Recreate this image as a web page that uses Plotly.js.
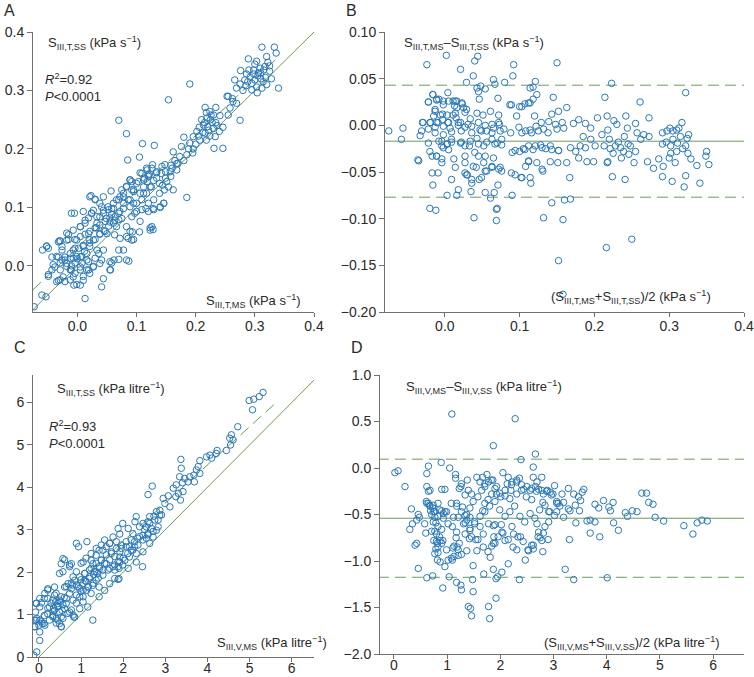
<!DOCTYPE html>
<html>
<head>
<meta charset="utf-8">
<script src="https://cdn.plot.ly/plotly-3.0.1.min.js"></script>
<style>
  html, body { margin: 0; padding: 0; background: #fff; }
  #chart { width: 754px; height: 677px; }
</style>
</head>
<body>
<div id="chart"></div>
<script>
// --- data ---
// panel A: S_III,T,MS (x) vs S_III,T,SS (y), kPa s-1
const aPts = [
  [0.312,0.374],[0.333,0.374],[0.336,0.364],[0.289,0.354],[0.303,0.350],[0.32,0.358],[0.276,0.334],[0.298,0.335],
  [0.309,0.338],[0.317,0.341],[0.325,0.333],[0.286,0.328],[0.292,0.323],[0.300,0.318],[0.283,0.318],[0.266,0.318],
  [0.275,0.311],[0.314,0.315],[0.303,0.306],[0.340,0.304],[0.295,0.301],[0.269,0.304],[0.28,0.30],[0.255,0.29],
  [0.262,0.286],[0.253,0.29],[0.269,0.278],[0.263,0.281],[0.258,0.27],[0.275,0.249],[0.255,0.258],[0.246,0.237],
  [0.241,0.257],[0.305,0.325],[0.295,0.312],[0.318,0.322],[0.31,0.33],[0.29,0.335],[0.322,0.348],[0.328,0.32],[0.3,0.345],
  [0.19,0.311],[0.154,0.284],[0.070,0.249],[0.083,0.226],[0.110,0.209],[0.130,0.206],[0.105,0.186],[0.085,0.181],[0.185,0.117],
  [0.216,0.271],[0.234,0.271],[0.224,0.264],[0.23,0.258],[0.219,0.253],[0.21,0.25],[0.225,0.25],[0.234,0.245],
  [0.213,0.241],[0.206,0.237],[0.22,0.238],[0.23,0.235],[0.24,0.23],[0.202,0.23],[0.216,0.227],[0.224,0.222],
  [0.233,0.221],[0.196,0.221],[0.207,0.215],[0.218,0.215],[0.231,0.201],[0.246,0.201],[0.190,0.21],[0.18,0.22],
  [0.176,0.204],[0.195,0.193],[0.185,0.19],[0.173,0.187],[0.162,0.195],[0.168,0.175],[0.157,0.161],[0.168,0.164],
  [0.148,0.173],[0.142,0.158],[0.134,0.15],[0.151,0.144],[0.162,0.13],[0.144,0.138],[0.139,0.124],[0.146,0.107],
  [0.14,0.10],[0.128,0.098],[0.118,0.144],[0.12,0.153],[0.125,0.135],[0.112,0.135],[0.106,0.124],[0.117,0.124],
  [0.109,0.113],[0.1,0.107],[0.116,0.098],[0.123,0.061],[0.126,0.067],[0.097,0.09],[0.089,0.101],[0.086,0.113],
  [0.095,0.13],[0.092,0.144],[0.089,0.147],[0.078,0.124],[0.083,0.135],[0.066,0.113],[0.072,0.118],[0.078,0.098],
  [0.07,0.09],[0.061,0.098],[0.052,0.101],[0.044,0.095],[0.038,0.084],[0.049,0.081],[0.063,0.078],[0.075,0.081],
  [0.083,0.067],[0.066,0.067],[0.055,0.075],[0.033,0.073],[0.024,0.09],[0.021,0.118],[0.03,0.113],[0.038,0.055],
  [0.05,0.055],[0.063,0.053],[0.072,0.047],[0.092,0.044],[0.105,0.058],[0.07,0.027],[0.062,0.01],[0.083,0.01],
  [0.055,0.007],[0.055,-0.007],[0.041,-0.036],[0.013,-0.056],[-0.01,0.09],[0.013,0.078],[0.005,0.067],[-0.007,0.061],
  [-0.015,0.053],[-0.001,0.044],[0.01,0.035],[-0.004,0.03],[-0.012,0.021],[-0.021,0.015],[-0.007,0.013],[0.005,0.015],
  [0.016,0.021],[0.021,0.033],[0.027,0.044],[0.019,0.055],[0.033,0.027],[0.038,0.004],[0.027,-0.002],[0.016,-0.007],
  [0.005,-0.002],[-0.004,-0.013],[-0.012,-0.007],[-0.018,0.004],[-0.026,0.01],[-0.032,0.015],[-0.038,-0.002],[-0.029,-0.007],
  [-0.024,-0.019],[-0.007,-0.019],[0.005,-0.033],[-0.006,-0.033],[0.01,-0.025],[0.021,-0.013],[-0.026,0.033],[-0.032,0.041],
  [-0.018,0.044],[-0.043,0.015],[-0.03,0.043],[-0.049,0.03],[-0.052,0.034],[-0.059,0.027],[-0.043,-0.007],[-0.032,-0.025],
  [-0.035,-0.027],[-0.049,-0.018],[-0.06,-0.05],[-0.053,-0.053],[-0.073,-0.07],[0.044,-0.022],[0.030,0.013],[0.019,0.007],
  [0.109,0.158],[0.113,0.15],[0.122,0.157],[0.117,0.167],[0.127,0.173],[0.134,0.161],[0.103,0.144],[0.086,0.047],[0.093,0.058],
  [0.008,0.005],[0.0,0.012],[-0.01,0.0],[0.012,0.025],[0.02,0.045],[0.045,0.06],[0.058,0.088],[0.032,0.065],
  [0.057,0.128],[0.023,0.12],[0.030,0.114],[-0.005,0.09],[0.010,0.093],[0.027,0.095],[0.041,0.101],[0.058,0.098],
  [0.072,0.093],[0.078,0.107],[0.089,0.113],[0.095,0.127],[0.112,0.124],[0.123,0.135],[0.129,0.146],[0.12,0.156],
  [0.134,0.159],[0.143,0.170],[0.149,0.150],[0.154,0.135],[0.140,0.101],[0.129,0.096],[0.120,0.107],[0.109,0.096],
  [0.100,0.093],[0.092,0.084],[0.106,0.076],[0.123,0.065],[0.128,0.062],[0.089,0.059],[0.083,0.050],[0.095,0.045],
  [0.078,0.027],[0.087,0.008],[0.07,0.011],[0.058,0.005],[0.056,-0.007],[0.044,0.027],[0.036,0.021],[0.041,0.010],
  [0.027,-0.001],[0.019,-0.007],[0.010,-0.018],[0.005,-0.007],[-0.004,0.005],[-0.012,0.013],[-0.021,0.010],[-0.029,0.005],
  [-0.018,-0.001],[-0.01,-0.007],[-0.001,0.016],[0.007,0.016],[0.016,0.01],[-0.007,0.027],[0.002,0.030],[0.010,0.033],
  [0.021,0.039],[0.030,0.045],[0.038,0.054],[0.047,0.059],[0.053,0.068],[0.061,0.073],[0.070,0.079],[0.064,0.084],
  [0.055,0.082],[0.047,0.076],[0.038,0.070],[0.030,0.065],[0.021,0.059],[0.013,0.054],[0.005,0.050],[-0.004,0.045],
  [0.005,0.067],[0.013,0.073],[0.019,0.082],[0.033,0.084],[0.024,0.090],[0.044,0.090],[0.053,0.096],[0.061,0.107],
  [0.070,0.113],[0.078,0.118],[0.044,0.118],[0.038,0.107],[-0.018,0.056],[-0.015,0.045],[-0.026,0.027],[-0.035,0.016],
  [-0.041,0.002],[-0.029,-0.024],[-0.021,-0.027],[-0.001,-0.032],[-0.012,-0.024],[-0.049,-0.015],[-0.052,0.033],[-0.029,0.042],
  [0.112,0.147],[0.1,0.141],[0.092,0.130],[0.083,0.136],[0.075,0.130],[0.089,0.147],[0.106,0.159],[0.118,0.164],
  [0.126,0.167],[0.139,0.141],[0.147,0.130],[0.158,0.153],[0.149,0.161],[0.16,0.167],[0.129,0.113],[0.12,0.093],
  [0.146,0.107],[0.095,0.107],
  [0.215,0.245],[0.222,0.232],[0.228,0.245],[0.212,0.228],[0.205,0.222],[0.236,0.24],[0.226,0.258],[0.218,0.262],
  [0.31,0.32],[0.306,0.33],[0.315,0.335],[0.298,0.328],[0.325,0.342],[0.32,0.31],[0.288,0.315],[0.304,0.296],
  [0.312,0.304],[0.285,0.308],[0.196,0.2],[0.188,0.2],[0.2,0.208],[0.17,0.175],[0.18,0.18],[0.158,0.172],[0.165,0.18]
];
const aFit = { slope: 0.96, icept: 0.031, x0: -0.075, x1: 0.34 };

// panel B: mean of T (x) vs difference (y)
const bPts = [
  [-0.024,0.065],[0.002,0.075],[0.021,0.06],[0.038,0.053],[0.04,0.069],[0.044,0.074],[0.029,0.046],[0.092,0.065],
  [0.091,0.053],[0.15,0.067],[0.121,0.047],[0.08,0.046],[0.065,0.049],[0.043,0.04],[0.048,0.042],[0.045,0.036],
  [0.054,0.039],[0.067,0.044],[0.114,0.04],[0.118,0.041],[0.123,0.033],[0.118,0.028],[0.114,0.024],[0.223,0.045],
  [0.322,0.035],[0.214,0.03],[0.261,0.025],[0.145,0.03],[0.071,0.029],[0.046,0.028],[0.089,0.022],[0.1,0.02],
  [0.107,0.023],[0.163,0.019],
  [-0.022,0.025],[-0.016,0.033],[-0.011,0.028],[-0.008,0.028],[-0.002,0.022],[0.005,0.026],[0.011,0.026],[0.014,0.026],
  [0.013,0.021],[0.016,0.019],[0.023,0.024],[0.025,0.019],[0.029,0.017],[-0.013,0.017],[-0.006,0.011],[0.003,0.011],
  [0.011,0.011],[-0.015,0.01],[-0.029,0.003],[-0.019,0.003],[-0.011,0.003],[-0.003,0.006],[0.005,0.003],[0.015,0.008],
  [0.021,0.003],[0.034,0.007],[0.043,0.013],[0.051,0.011],[0.061,0.015],[0.072,0.011],[-0.075,-0.006],[-0.056,-0.003],
  [-0.058,-0.015],[-0.033,-0.011],[-0.031,-0.006],[-0.022,-0.004],[-0.013,-0.002],[-0.002,-0.001],[0.007,-0.003],[0.018,0],
  [0.027,-0.002],[0.036,-0.001],[0.047,-0.005],[0.056,-0.006],[0.065,-0.003],[0.073,0.001],[0.079,-0.004],[0.088,-0.008],
  [0.099,-0.002],[0.108,-0.006],[0.114,-0.005],[0.122,-0.001],[0.132,-0.004],[0.139,0.004],[0.148,0.001],[0.157,0.003],
  [0.159,-0.003],[0.172,0.002],[0.179,0.006],[0.188,0.002],[0.195,-0.003],[0.204,0.008],[0.217,0.01],[0.226,0.005],
  [0.23,0.001],[0.242,0.01],[0.244,-0.003],[0.255,0.002],[0.273,0.008],[0.257,-0.008],[0.266,-0.01],[0.273,-0.012],
  [0.291,-0.008],[0.297,-0.006],[0.301,-0.003],[0.305,-0.006],[0.313,-0.003],[0.317,0.003],[0.326,-0.01],[0.324,-0.014],
  [-0.022,-0.019],[-0.008,-0.017],[-0.004,-0.022],[0.003,-0.02],[0.009,-0.015],[0.021,-0.019],[0.027,-0.022],[0.034,-0.017],
  [0.043,-0.014],[0.052,-0.022],[0.063,-0.015],[0.07,-0.019],[0.076,-0.021],[0.09,-0.029],[0.1,-0.028],[0.105,-0.025],
  [0.112,-0.022],[0.121,-0.022],[0.128,-0.021],[0.135,-0.025],[0.141,-0.022],[0.152,-0.027],[0.168,-0.024],[0.181,-0.022],
  [0.188,-0.024],[0.201,-0.022],[0.213,-0.022],[0.221,-0.025],[0.228,-0.022],[0.235,-0.024],[0.239,-0.028],[0.246,-0.031],
  [0.248,-0.022],[0.291,-0.02],[0.302,-0.022],[0.311,-0.019],[0.322,-0.022],[0.35,-0.028],
  [-0.035,-0.038],[-0.017,-0.033],[-0.011,-0.033],[-0.004,-0.04],[-0.017,-0.051],[-0.016,-0.064],[0.009,-0.058],[0.016,-0.075],
  [0.003,-0.075],[0.018,-0.069],[0.027,-0.051],[0.03,-0.053],[0.038,-0.044],[0.036,-0.062],[0.035,-0.071],[0.045,-0.033],
  [0.052,-0.04],[0.056,-0.049],[0.046,-0.058],[0.054,-0.072],[0.061,-0.078],[0.066,-0.072],[0.063,-0.044],[0.072,-0.047],
  [0.076,-0.049],[0.071,-0.064],[0.07,-0.089],[0.069,-0.09],[0.069,-0.102],[0.039,-0.099],[-0.02,-0.089],[-0.012,-0.091],
  [0.09,-0.075],[0.094,-0.053],[0.102,-0.056],[0.108,-0.044],[0.112,-0.039],[0.115,-0.062],[0.123,-0.04],[0.131,-0.049],
  [0.132,-0.099],[0.141,-0.039],[0.143,-0.083],[0.151,-0.04],[0.152,-0.145],[0.158,-0.101],[0.16,-0.08],[0.163,-0.04],
  [0.167,-0.056],[0.168,-0.079],[0.179,-0.035],[0.19,-0.039],[0.199,-0.039],[0.217,-0.04],[0.218,-0.039],[0.224,-0.055],
  [0.216,-0.131],[0.241,-0.058],[0.25,-0.122],[0.253,-0.04],[0.271,-0.039],[0.279,-0.046],[0.286,-0.036],[0.292,-0.044],
  [0.291,-0.055],[0.304,-0.06],[0.302,-0.03],[0.308,-0.04],[0.322,-0.054],[0.32,-0.066],[0.329,-0.036],[0.337,-0.043],
  [0.341,-0.062],[0.353,-0.042],[0.349,-0.033],[0.158,-0.181],
  [-0.016,0.033],[0.004,0.035],[-0.022,0.025],[-0.011,0.027],[-0.002,0.026],[0.016,0.026],[0.023,0.023],[-0.013,0.015],
  [-0.003,0.012],[0.014,0.013],[0.027,0.014],[-0.030,0.003],[-0.020,0.003],[-0.009,0.003],[0.004,0.003],[0.018,0.003],
  [0.031,0.001],[0.045,0.003],[0.054,0],[0.063,0.001],[0.072,0.003],[-0.013,-0.008],[-0.002,-0.01],[0.009,-0.007],
  [0.022,-0.006],[0.036,-0.008],[0.049,-0.006],[0.063,-0.008],[0.074,-0.006],[-0.004,-0.017],[0.003,-0.020],[0.009,-0.018],
  [-0.002,-0.024],[0.005,-0.026],[0.022,-0.018],[0.033,-0.022],[0.045,-0.02],[0.056,-0.018],[0.067,-0.02],[0.076,-0.015],
  [-0.020,-0.028],[-0.011,-0.033],[-0.004,-0.036],[0.012,-0.036],[0.027,-0.033],[0.040,-0.029],[0.054,-0.033],[0.065,-0.035],
  [0.027,-0.040],[0.042,-0.045],[0.054,-0.049],[0.063,-0.045],[0.074,-0.045],[0.014,-0.045],[-0.009,-0.051],[0.029,-0.053],
  [0.036,-0.058],[0.049,-0.056],[-0.036,-0.037],
  [0.087,0.022],[0.103,0.020],[0.112,0.024],[0.096,0.010],[0.120,0.010],[0.129,0.003],[0.143,0.012],[0.152,0.015],
  [0.103,-0.008],[0.116,-0.008],[0.125,-0.006],[0.138,-0.008],[0.15,-0.004],[0.094,-0.027],[0.107,-0.026],[0.118,-0.026],
  [0.13,-0.024],[0.143,-0.026],[0.152,-0.027],[0.112,-0.038],[0.13,-0.047],[0.103,-0.056],[0.114,-0.056],[0.089,-0.051],
  [0.22,-0.015],[0.225,-0.03],[0.232,-0.018],[0.236,-0.035],[0.24,-0.012],[0.245,-0.02],[0.21,-0.01],[0.218,-0.005],
  [0.305,-0.015],[0.31,-0.028],[0.315,-0.012],[0.318,-0.025],[0.3,-0.035],[0.325,-0.03],[0.31,-0.005],[0.296,-0.018],
  [0.255,-0.028],[0.262,-0.015],[0.185,-0.012],[0.175,-0.028],[0.195,-0.015]
];
const bLines = { mean: -0.017, upper: 0.043, lower: -0.077 };

// panel C: S_III,V,MS (x) vs S_III,T,SS (y), kPa litre-1
const cPts = [
  [5.32,6.24],[5.23,6.14],[5.10,6.08],[4.99,6.05],[5.07,5.83],[4.72,5.43],[4.57,5.24],[4.53,5.16],[4.61,5.12],[4.55,5.0],
  [4.45,4.87],[4.23,4.87],[4.21,4.8],[4.06,4.76],[3.98,4.72],[4.10,4.69],[3.82,4.63],[3.78,4.49],[3.74,4.41],[3.82,4.33],
  [3.68,4.29],[3.58,4.25],[3.46,4.21],[3.37,4.66],[3.38,4.45],[3.34,4.25],[3.41,4.11],[3.54,4.13],[3.69,4.13],[3.26,4.06],
  [3.19,3.98],[3.31,3.86],[3.42,3.90],[3.25,3.78],[3.36,3.70],[3.07,3.80],[2.95,3.74],[2.59,3.83],[2.69,4.03],[2.99,3.62],
  [3.11,3.54],[2.87,3.46],[2.79,3.43],[2.91,3.35],[2.73,3.32],[2.63,3.31],[2.83,3.23],[2.59,3.19],[2.47,3.15],[2.31,3.31],
  [2.28,3.19],[2.39,3.07],[2.55,3.07],[2.67,3.03],[2.79,2.99],[2.59,2.91],[2.47,2.87],[2.35,2.80],[2.19,2.76],[2.23,2.91],
  [2.12,3.03],[1.99,3.15],[1.88,3.03],[1.92,2.90],[1.76,2.83],[1.84,2.72],[1.68,2.68],[1.56,2.76],[1.60,2.60],[1.96,2.56],
  [2.07,2.60],[2.19,2.52],[2.31,2.44],[2.15,2.36],[2.04,2.28],[1.92,2.24],[1.80,2.17],[1.92,2.36],[1.72,2.44],[1.52,2.52],
  [1.43,2.52],[1.36,2.40],[1.48,2.28],[1.60,2.20],[1.68,2.09],[1.80,2.05],[1.52,2.05],[1.40,1.97],[1.28,2.20],[1.20,2.05],
  [1.05,2.24],[0.89,2.68],[0.94,2.60],[1.14,2.72],[1.24,2.28],[1.09,1.97],[0.97,1.89],[0.85,1.81],[0.73,2.17],[0.77,2.20],
  [0.57,2.32],[0.53,2.20],[0.57,2.01],[0.49,1.97],[0.69,1.73],[0.61,1.65],[0.77,1.61],[0.93,1.65],[1.05,1.73],[1.16,1.65],
  [1.13,1.57],[1.28,1.69],[1.36,1.81],[1.43,1.65],[1.24,1.50],[1.05,1.42],[0.89,1.46],[0.81,1.34],[0.65,1.26],[0.53,1.42],
  [0.41,1.50],[0.37,1.65],[0.21,1.61],[0.13,1.38],[0.33,1.34],[0.45,1.26],[0.25,1.18],[0.37,1.10],[0.49,1.06],[0.61,1.14],
  [0.73,1.06],[0.85,0.94],[0.53,0.94],[0.41,0.91],[0.33,0.98],[0.21,1.02],[0.13,0.98],[0.02,1.18],[-0.06,1.26],[0.06,1.28],
  [-0.08,1.06],[-0.05,0.91],[-0.10,0.87],[0.02,0.87],[0.08,0.79],[0.0,0.75],[0.12,0.79],[-0.10,0.71],[0.02,0.59],[0.02,0.39],
  [-0.05,0.12],[-0.12,0.04],[1.28,0.87],[0.97,1.14],[0.83,0.94],[0.53,0.71],[0.49,0.79],[1.16,1.18],[1.05,1.30],[1.43,1.42],
  [1.56,1.57],[1.68,1.73],[1.80,1.85],[1.43,2.13],[1.36,2.01],[1.20,1.85],[1.90,1.85],[1.99,2.17],[2.12,2.09],[2.31,2.24],
  [2.47,2.48],[2.27,2.60],[2.55,2.80],[2.46,2.13],[1.88,2.13],[1.90,2.09],[2.63,2.68],[2.71,2.83],[1.88,1.83],
  [0.45,1.20],[0.55,1.10],[0.40,1.30],[0.60,1.40],[0.35,1.15],[0.50,1.30],[1.00,1.55],[1.10,1.80],[0.80,1.70],[1.30,1.95],
  [0.02,1.38],[-0.06,1.27],[0.21,1.38],[0.29,1.27],[0.21,1.15],[0.33,1.07],[0.45,1.19],[0.57,1.23],[0.49,1.34],[0.37,1.46],
  [0.65,1.38],[0.73,1.50],[0.33,0.95],[0.45,0.87],[0.53,0.72],[0.25,0.87],[0.41,0.80],[0.57,0.91],[0.69,1.03],[0.77,1.11],
  [0.89,1.27],[0.97,1.42],[-0.06,0.87],[0.06,0.83],[0.14,0.75],[-0.1,0.72],[0.81,0.99],[0.21,1.58],[0.14,1.50],
  [0.65,1.66],[0.77,1.74],[0.89,1.70],[1.0,1.82],[0.97,1.62],[1.12,1.78],[1.20,1.89],[1.09,1.97],[1.24,2.09],[1.36,2.21],
  [1.48,2.29],[1.60,2.41],[1.72,2.48],[1.84,2.56],[1.96,2.64],[2.07,2.72],[1.32,2.01],[1.44,2.09],[1.56,2.21],[1.68,2.29],
  [1.80,2.37],[1.92,2.48],[1.05,1.58],[1.17,1.66],[1.29,1.74],[1.41,1.86],[1.52,1.93],[1.64,2.05],[1.76,2.13],[1.88,2.25],
  [2.0,2.33],[2.11,2.44],[2.23,2.52],[2.35,2.64],[2.47,2.76],[2.59,2.88],[2.71,2.96],[2.83,3.07],[2.15,2.60],[2.27,2.72],
  [2.39,2.84],[2.51,3.0],[2.63,3.15],[2.75,3.23],[2.87,3.35],[0.81,1.89],[0.89,2.01],[0.73,2.13],[0.61,2.29],[1.0,2.21],
  [1.12,2.33],[1.24,2.44],[1.36,2.56],[1.48,2.64],[1.68,2.68]
];
const cFit = { slope: 0.9, icept: 0.93, x0: 0, x1: 5.6 };

// panel D: mean of V (x) vs difference (y)
const dPts = [
  [1.09,0.58],[2.28,0.53],[1.87,0.24],[2.66,0.15],[2.39,0.09],[0.89,0.06],[2.62,0.01],[1.05,0.0],[0.65,0.02],[0.02,-0.05],
  [0.08,-0.03],[0.62,-0.06],[1.16,-0.07],[1.16,-0.11],[1.38,-0.13],[1.56,-0.10],[1.62,-0.15],[1.67,-0.10],[1.75,-0.07],[1.78,-0.15],
  [1.86,-0.13],[2.05,-0.05],[2.15,-0.10],[2.22,-0.15],[2.31,-0.13],[2.36,-0.11],[2.40,-0.18],[2.13,-0.17],[2.62,-0.10],[2.69,-0.15],
  [2.78,-0.10],[0.21,-0.20],[0.62,-0.20],[0.68,-0.24],[0.90,-0.23],[0.96,-0.23],[0.65,-0.25],[1.23,-0.22],[1.26,-0.20],[1.34,-0.29],
  [1.46,-0.28],[1.71,-0.20],[1.84,-0.28],[1.90,-0.22],[1.93,-0.28],[2.01,-0.31],[2.09,-0.30],[2.20,-0.24],[2.31,-0.28],[2.44,-0.23],
  [2.50,-0.20],[2.56,-0.24],[2.66,-0.20],[2.72,-0.23],[2.81,-0.28],[2.88,-0.24],[2.94,-0.26],[2.99,-0.28],[3.02,-0.19],[3.09,-0.38],
  [3.16,-0.28],[3.28,-0.22],[3.38,-0.28],[3.47,-0.31],[3.54,-0.26],[3.57,-0.23],[3.51,-0.35],[2.80,-0.37],[3.06,-0.38],[3.19,-0.37],
  [3.28,-0.44],[3.31,-0.46],[3.41,-0.40],[3.49,-0.46],[3.78,-0.39],[3.85,-0.43],[3.94,-0.35],[4.04,-0.42],[4.07,-0.46],[4.12,-0.37],
  [4.35,-0.48],[4.39,-0.52],[4.48,-0.46],[4.57,-0.47],[4.66,-0.27],[4.75,-0.27],[4.79,-0.37],[4.87,-0.39],[4.91,-0.53],[5.07,-0.57],
  [5.45,-0.62],[5.62,-0.71],[5.70,-0.59],[5.79,-0.56],[5.89,-0.57],
  [0.33,-0.44],[0.30,-0.66],[0.35,-0.60],[0.43,-0.56],[0.46,-0.50],[0.40,-0.83],[0.43,-0.81],[0.60,-0.70],[0.62,-0.38],[0.65,-0.38],
  [0.68,-0.41],[0.74,-0.40],[0.75,-0.47],[0.77,-0.53],[0.69,-0.46],[0.83,-0.38],[0.90,-0.46],[0.93,-0.49],[0.99,-0.47],[0.79,-0.59],
  [0.71,-0.68],[0.80,-0.71],[0.90,-0.66],[0.75,-0.78],[0.82,-0.81],[0.87,-0.78],[0.92,-0.78],[0.79,-0.87],[0.83,-0.91],[0.87,-1.01],
  [0.82,-0.99],[0.99,-0.88],[1.02,-0.99],[0.96,-1.06],[0.62,-1.18],[0.46,-1.08],[0.73,-1.16],[0.92,-1.29],[1.04,-1.17],[1.12,-0.53],
  [1.18,-0.38],[1.21,-0.53],[1.10,-0.63],[1.17,-0.75],[1.13,-0.84],[1.19,-0.85],[1.13,-0.95],[1.23,-0.81],[1.10,-0.99],[1.21,-0.94],
  [1.29,-0.42],[1.34,-0.51],[1.37,-0.56],[1.43,-0.67],[1.42,-0.76],[1.34,-0.71],[1.37,-0.89],[1.18,-1.23],[1.26,-1.26],[1.27,-1.31],
  [1.49,-1.05],[1.48,-1.20],[1.49,-1.33],[1.40,-1.49],[1.44,-1.51],[1.46,-1.59],[1.52,-0.60],[1.54,-0.77],[1.56,-0.89],[1.62,-0.63],
  [1.67,-0.46],[1.71,-0.38],[1.78,-0.60],[1.68,-0.71],[1.69,-1.14],[1.78,-1.49],[1.80,-1.62],[1.81,-0.96],[1.84,-0.84],[1.88,-0.74],
  [1.90,-0.81],[1.87,-1.09],[1.92,-1.19],[1.95,-1.17],[1.92,-1.40],[2.03,-1.12],[2.03,-0.69],[2.09,-0.78],[2.15,-1.03],[2.22,-0.63],
  [2.25,-0.71],[2.31,-0.88],[2.36,-1.20],[2.38,-0.74],[2.47,-0.99],[2.53,-0.89],[2.59,-0.83],[2.62,-0.87],[2.72,-0.69],[2.75,-0.75],
  [2.78,-0.78],[2.80,-0.90],[2.69,-0.60],[2.84,-0.63],[2.91,-0.58],[3.22,-1.09],[3.30,-0.77],[3.38,-1.20],[3.69,-0.70],[3.87,-0.74],
  [4.01,-1.18],[4.22,-0.67],[4.13,-0.59],[3.69,-0.56],[3.63,-0.57],[3.78,-0.58],[3.42,-0.59],[3.19,-0.53],[3.06,-0.47],[2.91,-0.47],
  [1.87,-0.62],[1.43,-0.53],[1.31,-0.60],[1.02,-0.60],[1.18,-0.69],[0.58,-0.60],[0.48,-0.53],
  [0.61,-0.36],[0.67,-0.40],[0.73,-0.43],[0.77,-0.47],[0.86,-0.45],[0.96,-0.47],[0.71,-0.50],[0.83,-0.52],[0.93,-0.54],[0.74,-0.58],
  [0.83,-0.63],[0.77,-0.68],[0.86,-0.74],[0.80,-0.79],[0.83,-0.85],[0.90,-0.81],[0.77,-0.92],[1.08,-0.38],[1.18,-0.41],[1.27,-0.47],
  [1.37,-0.50],[1.43,-0.43],[1.49,-0.36],[1.58,-0.31],[1.65,-0.24],[1.71,-0.17],[1.83,-0.13],[1.93,-0.20],[1.99,-0.27],[2.09,-0.24],
  [2.21,-0.18],[2.31,-0.15],[2.40,-0.24],[2.49,-0.31],[2.59,-0.22],[2.68,-0.25],[2.78,-0.24],[2.87,-0.25],[2.96,-0.29],[3.06,-0.36],
  [1.34,-0.59],[1.43,-0.65],[1.52,-0.58],[1.62,-0.52],[1.71,-0.47],[1.80,-0.41],[1.90,-0.36],[1.99,-0.45],[2.09,-0.52],[2.18,-0.47],
  [2.27,-0.41],[2.37,-0.52],[2.46,-0.58],[2.56,-0.49],[2.65,-0.54],[2.74,-0.45],[2.84,-0.40],[2.93,-0.47],[3.02,-0.51],[3.12,-0.41],
  [1.46,-0.74],[1.58,-0.77],[1.68,-0.85],[1.77,-0.90],[1.87,-0.81],[1.96,-0.74],[2.05,-0.70],[2.15,-0.77],[2.24,-0.85],[2.33,-0.74],
  [2.43,-0.79],[2.52,-0.88],[2.62,-0.83],[2.71,-0.74],[2.81,-0.70],[2.90,-0.77],[1.11,-0.86],[1.21,-0.88],[1.27,-0.93],[1.08,-0.97],
  [1.77,-0.34],[2.18,-0.33],[2.59,-0.34],[1.40,-0.24],[1.27,-0.17],[2.02,-0.61],[1.90,-0.61]
];
const dLines = { mean: -0.54, upper: 0.095, lower: -1.175 };

// --- styling ---
const W = 754, H = 677;
const BLUE = '#2a78b8';
const GREEN = '#6a9c5a';
const FONT = 'Liberation Sans, Arial, sans-serif';
const px = x => x / W;
const py = y => 1 - y / H;

function pts(arr, xa, ya) {
  return {
    x: arr.map(p => p[0]), y: arr.map(p => p[1]),
    xaxis: xa, yaxis: ya, type: 'scatter', mode: 'markers',
    marker: { symbol: 'circle-open', size: 6.5, color: BLUE, line: { width: 1, color: BLUE } },
    hoverinfo: 'skip'
  };
}
function seg(x0, x1, y0, y1, xa, ya, dash) {
  return {
    x: [x0, x1], y: [y0, y1], xaxis: xa, yaxis: ya, type: 'scatter', mode: 'lines',
    line: { color: GREEN, width: 1, dash: dash || 'solid' }, hoverinfo: 'skip'
  };
}
const DASH = '11px,6px';

const traces = [
  // A
  seg(-0.075, 0.4, -0.075, 0.4, 'x', 'y'),
  seg(aFit.x0, aFit.x1, aFit.icept + aFit.slope * aFit.x0, aFit.icept + aFit.slope * aFit.x1, 'x', 'y', DASH),
  pts(aPts, 'x', 'y'),
  // B
  seg(-0.08, 0.4, bLines.mean, bLines.mean, 'x2', 'y2'),
  seg(-0.08, 0.4, bLines.upper, bLines.upper, 'x2', 'y2', DASH),
  seg(-0.08, 0.4, bLines.lower, bLines.lower, 'x2', 'y2', DASH),
  pts(bPts, 'x2', 'y2'),
  // C
  seg(0, 6.7, 0, 6.7, 'x3', 'y3'),
  seg(cFit.x0, cFit.x1, cFit.icept + cFit.slope * cFit.x0, cFit.icept + cFit.slope * cFit.x1, 'x3', 'y3', DASH),
  pts(cPts, 'x3', 'y3'),
  // D
  seg(-0.3, 6.6, dLines.mean, dLines.mean, 'x4', 'y4'),
  seg(-0.3, 6.6, dLines.upper, dLines.upper, 'x4', 'y4', DASH),
  seg(-0.3, 6.6, dLines.lower, dLines.lower, 'x4', 'y4', DASH),
  pts(dPts, 'x4', 'y4')
];

const ax = {
  showgrid: false, zeroline: false, showline: true, linecolor: '#707070', linewidth: 1,
  ticks: 'outside', ticklen: 5, tickcolor: '#707070', tickwidth: 1,
  tickfont: { family: FONT, size: 14, color: '#2a2a2a' }, fixedrange: true
};
const xax = { ...ax, ticklen: 4, ticklabelstandoff: -3 };
// bottom row sits right at the page edge: pull its labels up a little more
const xaxLow = { ...ax, ticklen: 4, ticklabelstandoff: -6 };

const layout = {
  width: W, height: H, showlegend: false,
  margin: { l: 0, r: 0, t: 0, b: 0 },
  paper_bgcolor: '#fff', plot_bgcolor: '#fff',
  font: { family: FONT, size: 13, color: '#333' },
  xaxis:  { ...xax, domain: [px(33), px(314)], range: [-0.075, 0.4], anchor: 'y',
            tickvals: [0, 0.1, 0.2, 0.3, 0.4], tickformat: '.1f' },
  yaxis:  { ...ax, domain: [py(312), py(32)], range: [-0.079, 0.4], anchor: 'x',
            tickvals: [0, 0.1, 0.2, 0.3, 0.4], tickformat: '.1f' },
  xaxis2: { ...xax, domain: [px(385), px(744)], range: [-0.08, 0.4], anchor: 'y2',
            tickvals: [0, 0.1, 0.2, 0.3, 0.4], tickformat: '.1f' },
  yaxis2: { ...ax, domain: [py(312), py(32)], range: [-0.2, 0.1], anchor: 'x2',
            tickvals: [-0.2, -0.15, -0.1, -0.05, 0, 0.05, 0.1], tickformat: '.2f' },
  xaxis3: { ...xaxLow, domain: [px(33), px(314)], range: [-0.14, 6.53], anchor: 'y3',
            tickvals: [0, 1, 2, 3, 4, 5, 6] },
  yaxis3: { ...ax, domain: [py(657), py(375)], range: [0, 6.65], anchor: 'x3',
            tickvals: [0, 1, 2, 3, 4, 5, 6] },
  xaxis4: { ...xaxLow, domain: [px(380), px(744)], range: [-0.26, 6.58], anchor: 'y4',
            tickvals: [0, 1, 2, 3, 4, 5, 6] },
  yaxis4: { ...ax, domain: [py(654), py(375)], range: [-2, 1], anchor: 'x4',
            tickvals: [-2, -1.5, -1, -0.5, 0, 0.5, 1], tickformat: '.1f' },
  annotations: []
};

function note(text, x, y, xanchor, size) {
  layout.annotations.push({
    text, xref: 'paper', yref: 'paper', x: px(x), y: py(y),
    xanchor: xanchor || 'left', yanchor: 'middle', showarrow: false, align: 'left',
    font: { family: FONT, size: size || 13, color: '#2a2a2a' }
  });
}

// panel letters
note('A', 2, 10, 'left', 16);
note('B', 344, 10, 'left', 16);
note('C', 12, 347, 'left', 16);
note('D', 349, 347, 'left', 16);

// panel A
note('S<sub>III,T,SS</sub> (kPa s<sup>−1</sup>)', 46, 43);
note('<i>R</i><sup>2</sup>=0.92<br><i>P</i>&lt;0.0001', 43, 88);
note('S<sub>III,T,MS</sub> (kPa s<sup>−1</sup>)', 303, 301, 'right');
// panel B
note('S<sub>III,T,MS</sub>–S<sub>III,T,SS</sub> (kPa s<sup>−1</sup>)', 402, 43);
note('(S<sub>III,T,MS</sub>+S<sub>III,T,SS</sub>)/2 (kPa s<sup>−1</sup>)', 713, 297, 'right');
// panel C
note('S<sub>III,T,SS</sub> (kPa litre<sup>−1</sup>)', 55, 389);
note('<i>R</i><sup>2</sup>=0.93<br><i>P</i>&lt;0.0001', 47, 434);
note('S<sub>III,V,MS</sub> (kPa litre<sup>−1</sup>)', 329, 643, 'right');
// panel D
note('S<sub>III,V,MS</sub>–S<sub>III,V,SS</sub> (kPa litre<sup>−1</sup>)', 404, 387);
note('(S<sub>III,V,MS</sub>+S<sub>III,V,SS</sub>)/2 (kPa litre<sup>−1</sup>)', 722, 643, 'right');

Plotly.newPlot('chart', traces, layout, { staticPlot: true, displayModeBar: false });
</script>
</body>
</html>
